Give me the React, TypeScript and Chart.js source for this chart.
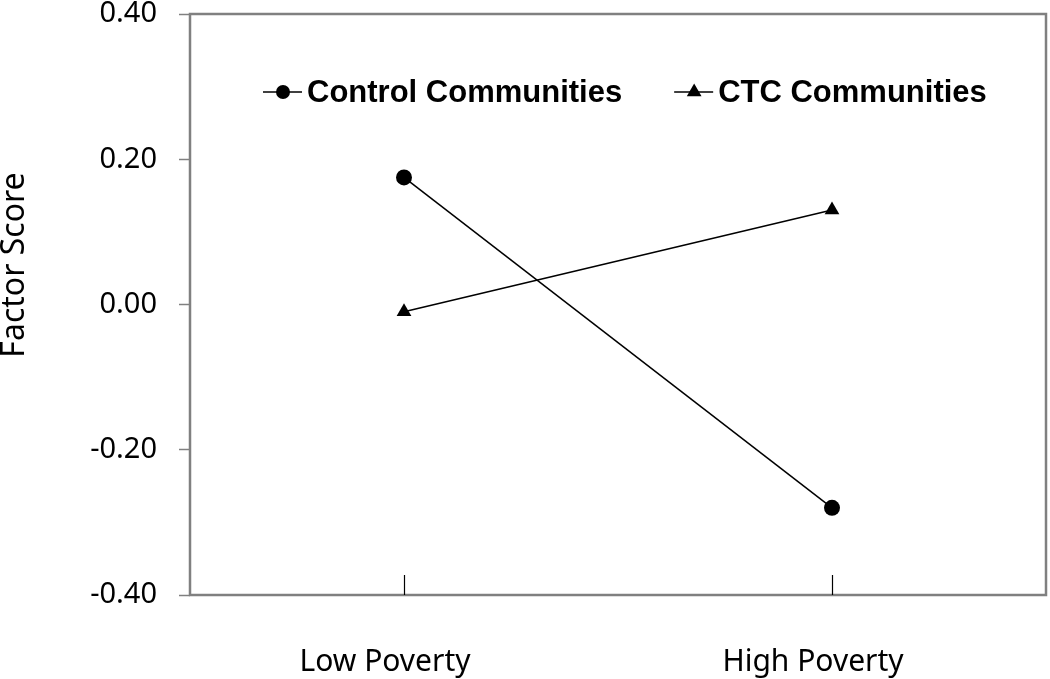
import { useEffect, useRef } from 'react';
import { Chart, registerables } from 'chart.js';

Chart.register(...registerables);

const categories = ['Low Poverty', 'High Poverty'];
const seriesNames = ['Control Communities', 'CTC Communities'];
const controlValues = [0.175, -0.28];
const ctcValues = [-0.01, 0.13];
const yTickValues = [-0.4, -0.2, 0, 0.2, 0.4];
const yTitle = 'Factor Score';

const TICK_FONT = '"Noto Sans", "DejaVu Sans", sans-serif';
const LEGEND_FONT = '"Liberation Sans", Arial, sans-serif';

function drawMarker(ctx: CanvasRenderingContext2D, style: string, x: number, y: number, r: number) {
  ctx.beginPath();
  if (style === 'circle') {
    ctx.arc(x, y, r, 0, Math.PI * 2);
  } else {
    let rad = 0;
    ctx.moveTo(x + Math.sin(rad) * r, y - Math.cos(rad) * r);
    rad += (Math.PI * 2) / 3;
    ctx.lineTo(x + Math.sin(rad) * r, y - Math.cos(rad) * r);
    rad += (Math.PI * 2) / 3;
    ctx.lineTo(x + Math.sin(rad) * r, y - Math.cos(rad) * r);
    ctx.closePath();
  }
  ctx.fill();
}

export default function App() {
  const ref = useRef<HTMLCanvasElement>(null);

  useEffect(() => {
    const canvas = ref.current!;
    const decor = {
      id: 'decor',
      beforeDatasetsDraw(chart: any) {
        const { ctx, chartArea: a, scales } = chart;
        ctx.save();
        ctx.strokeStyle = '#808080';
        ctx.lineWidth = 2.5;
        ctx.strokeRect(a.left, a.top, a.right - a.left, a.bottom - a.top);
        ctx.strokeStyle = '#000';
        ctx.lineWidth = 1.2;
        categories.forEach((_, i) => {
          const x = Math.round(scales.x.getPixelForValue(i)) + 0.5;
          ctx.beginPath();
          ctx.moveTo(x, a.bottom - 20);
          ctx.lineTo(x, a.bottom);
          ctx.stroke();
        });
        // y axis title
        ctx.fillStyle = '#000';
        ctx.font = `32px ${TICK_FONT}`;
        ctx.textAlign = 'center';
        ctx.textBaseline = 'middle';
        ctx.translate(a.left - 175, a.top + 251);
        ctx.rotate(-Math.PI / 2);
        ctx.fillText(yTitle, 0, 0);
        ctx.restore();
      },
      afterDraw(chart: any) {
        const { ctx, chartArea: a } = chart;
        ctx.save();
        const y = a.top + 78;
        let x = a.left + 73;
        chart.data.datasets.forEach((ds: any) => {
          ctx.strokeStyle = '#000';
          ctx.lineWidth = 1.5;
          ctx.beginPath();
          ctx.moveTo(x, y);
          ctx.lineTo(x + 39, y);
          ctx.stroke();
          ctx.fillStyle = '#000';
          drawMarker(ctx, ds.pointStyle, x + 20, y, ds.pointStyle === 'circle' ? 7 : 8.5);
          ctx.font = `bold 31px ${LEGEND_FONT}`;
          ctx.textAlign = 'left';
          ctx.textBaseline = 'middle';
          ctx.fillText(ds.label, x + 44, y + 1);
          x += 44 + ctx.measureText(ds.label).width + 52;
        });
        ctx.restore();
      },
    };

    const chart = new Chart(canvas, {
      type: 'line',
      data: {
        labels: categories,
        datasets: [
          {
            label: seriesNames[0],
            data: controlValues,
            borderColor: '#000',
            backgroundColor: '#000',
            borderWidth: 1.5,
            pointStyle: 'circle',
            pointRadius: 8,
            pointBorderWidth: 0,
            pointBackgroundColor: '#000',
          },
          {
            label: seriesNames[1],
            data: ctcValues,
            borderColor: '#000',
            backgroundColor: '#000',
            borderWidth: 1.5,
            pointStyle: 'triangle',
            pointRadius: 8.5,
            pointBorderWidth: 0,
            pointBackgroundColor: '#000',
          },
        ],
      },
      options: {
        responsive: false,
        animation: false,
        layout: { autoPadding: false, padding: { top: 14, right: 4, left: 0, bottom: 0 } },
        plugins: { legend: { display: false }, tooltip: { enabled: false } },
        scales: {
          x: {
            type: 'category',
            offset: true,
            grid: { display: false, drawTicks: false },
            border: { display: false },
            ticks: {
              color: '#000',
              font: { family: TICK_FONT, size: 30 },
              padding: 49,
              maxRotation: 0,
              labelOffset: -19,
            },
            afterFit(scale: any) {
              scale.height = 84;
              scale.paddingLeft = 0;
              scale.paddingRight = 0;
            },
          },
          y: {
            min: -0.4,
            max: 0.4,
            afterBuildTicks(scale: any) {
              scale.ticks = yTickValues.map((v) => ({ value: v }));
            },
            grid: {
              display: true,
              drawOnChartArea: false,
              drawTicks: true,
              tickLength: 11,
              tickColor: '#808080',
              tickWidth: 1.5,
            },
            border: { display: false },
            ticks: {
              color: '#000',
              font: { family: TICK_FONT, size: 29 },
              padding: 22,
              callback: (v: any) => Number(v).toFixed(2),
            },
            afterFit(scale: any) {
              scale.width = 190;
              scale.paddingTop = 0;
              scale.paddingBottom = 0;
            },
          },
        },
      },
      plugins: [decor],
    });
    return () => chart.destroy();
  }, []);

  return (
    <div style={{ position: 'absolute', left: 0, top: 0, width: 1050, height: 679, background: '#fff' }}>
      <canvas ref={ref} width={1050} height={679} />
    </div>
  );
}
